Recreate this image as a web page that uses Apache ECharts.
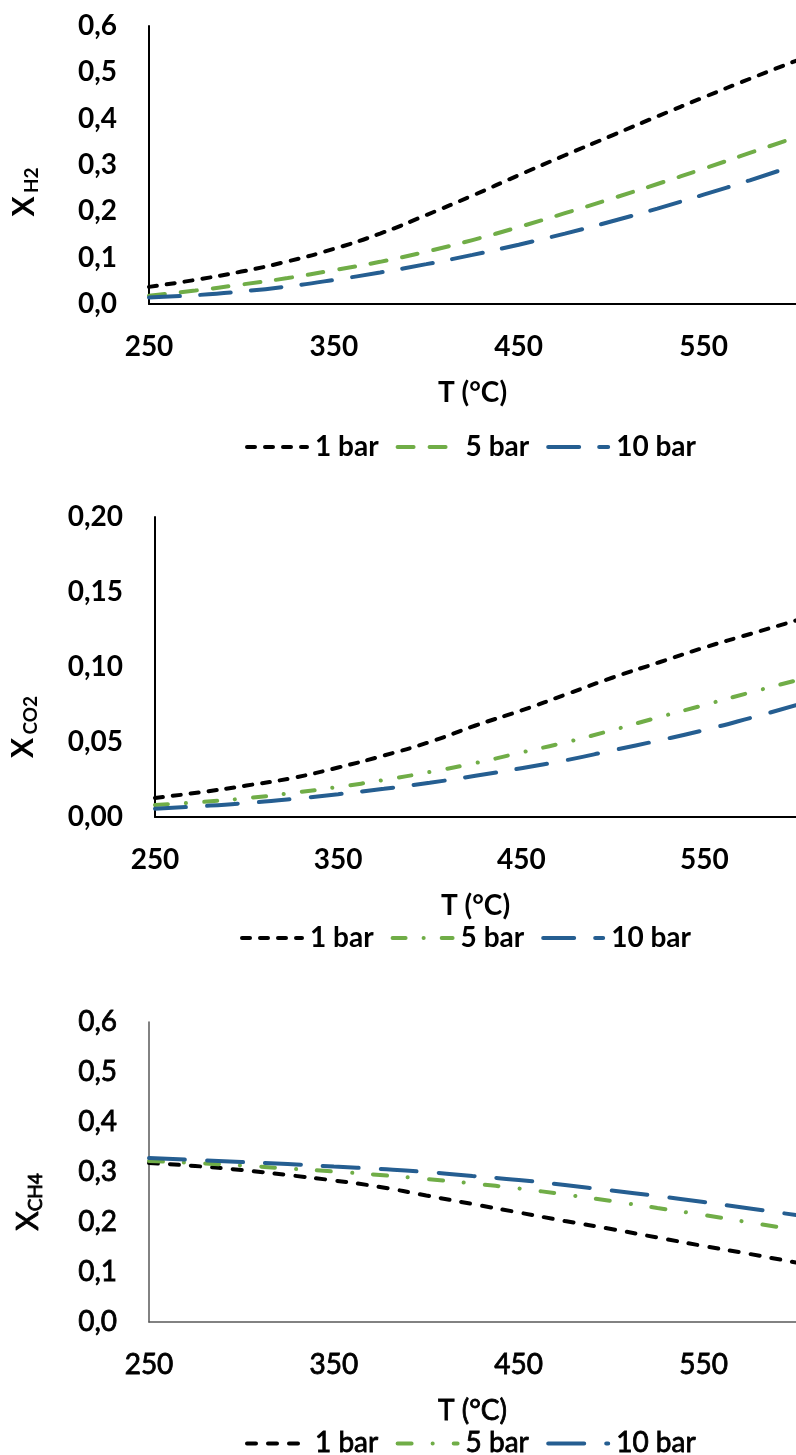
<!DOCTYPE html>
<html>
<head>
<meta charset="utf-8">
<script src="https://cdn.jsdelivr.net/npm/echarts@6/dist/echarts.min.js"></script>
<style>
  html, body { margin: 0; padding: 0; background: #fff; }
  .chart { width: 796px; }
</style>
</head>
<body>
<div id="c1" class="chart" style="height:480px"></div>
<div id="c2" class="chart" style="height:490px"></div>
<div id="c3" class="chart" style="height:485px"></div>
<script>
// temperatures (°C)
const temps = [250, 275, 300, 325, 350, 375, 400, 425, 450, 475, 500, 525, 550, 575, 600];
const seriesNames = ['1 bar', '5 bar', '10 bar'];

// X H2
const h2_1bar = [0.037, 0.052, 0.070, 0.092, 0.119, 0.152, 0.192, 0.234, 0.278, 0.321, 0.363, 0.405, 0.446, 0.486, 0.525];
const h2_5bar = [0.018, 0.029, 0.042, 0.056, 0.073, 0.091, 0.113, 0.138, 0.166, 0.196, 0.227, 0.259, 0.292, 0.326, 0.360];
const h2_10bar = [0.014, 0.019, 0.027, 0.038, 0.052, 0.068, 0.086, 0.106, 0.128, 0.152, 0.178, 0.206, 0.236, 0.267, 0.300];

// X CO2
const co2_1bar = [0.0127, 0.0165, 0.021, 0.026, 0.033, 0.041, 0.050, 0.061, 0.071, 0.082, 0.093, 0.103, 0.113, 0.122, 0.131];
const co2_5bar = [0.008, 0.010, 0.0125, 0.016, 0.020, 0.0247, 0.030, 0.036, 0.043, 0.050, 0.058, 0.0665, 0.0747, 0.083, 0.091];
const co2_10bar = [0.0055, 0.0072, 0.0093, 0.0120, 0.0152, 0.0188, 0.0228, 0.0275, 0.0325, 0.038, 0.0445, 0.051, 0.058, 0.066, 0.0745];

// X CH4
const ch4_1bar = [0.318, 0.312, 0.304, 0.294, 0.283, 0.270, 0.253, 0.236, 0.219, 0.202, 0.186, 0.169, 0.152, 0.136, 0.119];
const ch4_5bar = [0.322, 0.318, 0.313, 0.307, 0.301, 0.294, 0.286, 0.277, 0.267, 0.255, 0.242, 0.228, 0.214, 0.199, 0.184];
const ch4_10bar = [0.328, 0.324, 0.320, 0.316, 0.311, 0.306, 0.300, 0.292, 0.284, 0.274, 0.263, 0.252, 0.240, 0.227, 0.214];

const FONT = 'Lato, "Open Sans", sans-serif';
const colors = ['#000000', '#70AD47', '#255E91'];

function pairs(ys) {
  return temps.map((t, i) => [t, ys[i]]);
}

function makeOption(cfg) {
  // shared text look; chart 3 uses regular weight thickened a little
  const txt = {
    fontFamily: FONT, fontWeight: cfg.weight, color: '#000',
    textBorderColor: cfg.stroke ? '#000' : 'transparent', textBorderWidth: cfg.stroke || 0
  };
  return {
    animation: false,
    grid: { left: cfg.left, top: cfg.top, width: cfg.width, height: cfg.height },
    legend: {
      left: cfg.legendLeft, top: cfg.legendTop,
      itemWidth: 60, itemHeight: 10, itemGap: 17, padding: 0,
      data: seriesNames,
      itemStyle: { opacity: 0 },
      lineStyle: { width: 4, cap: 'round' },
      textStyle: Object.assign({ fontSize: 28, padding: [0, 0, 0, 3] }, txt)
    },
    xAxis: {
      type: 'value', min: 250, max: 600, interval: 100,
      name: 'T (°C)', nameLocation: 'middle', nameGap: 75,
      nameTextStyle: Object.assign({ fontSize: 28 }, txt),
      axisLine: { lineStyle: { color: cfg.axisColor, width: cfg.axisWidth } },
      axisTick: { show: false },
      splitLine: { show: false },
      axisLabel: Object.assign({ margin: 29, showMaxLabel: false, fontSize: 28 }, txt)
    },
    yAxis: {
      type: 'value', min: 0, max: cfg.yMax, interval: cfg.yStep,
      name: cfg.yName, nameLocation: 'middle', nameRotate: 90, nameGap: cfg.nameGap,
      nameTextStyle: {
        padding: [0, cfg.namePad, 0, 0],
        rich: {
          x: Object.assign({ fontSize: 30, lineHeight: 34 }, txt),
          s: Object.assign({ fontSize: 19, lineHeight: 14, verticalAlign: 'bottom' }, txt)
        }
      },
      axisLine: { show: true, lineStyle: { color: cfg.axisColor, width: cfg.axisWidth } },
      axisTick: { show: false },
      splitLine: { show: false },
      axisLabel: Object.assign({
        margin: 32, fontSize: 28,
        formatter: v => v.toFixed(cfg.digits).replace('.', ',')
      }, txt)
    },
    series: cfg.data.map((d, i) => ({
      name: seriesNames[i],
      type: 'line',
      data: pairs(d),
      smooth: true,
      symbol: 'none',
      lineStyle: { color: colors[i], width: 4, type: cfg.dashes[i], cap: 'round' },
      itemStyle: { color: colors[i] }
    }))
  };
}

const chart1 = echarts.init(document.getElementById('c1'));
chart1.setOption(makeOption({
  left: 149, top: 26, width: 658, height: 278,
  legendLeft: 245, legendTop: 433,
  yMax: 0.6, yStep: 0.1, digits: 1,
  yName: '{x|X} {s|H2}', nameGap: 108, namePad: 54,
  weight: 'bold', axisColor: '#000', axisWidth: 2,
  data: [h2_1bar, h2_5bar, h2_10bar],
  dashes: [[8, 10], [16, 16], [31, 20]]
}));

const chart2 = echarts.init(document.getElementById('c2'));
chart2.setOption(makeOption({
  left: 155, top: 37, width: 651, height: 300,
  legendLeft: 240, legendTop: 444,
  yMax: 0.2, yStep: 0.05, digits: 2,
  yName: '{x|X} {s|CO2}', nameGap: 115, namePad: 120,
  weight: 'bold', axisColor: '#000', axisWidth: 2,
  data: [co2_1bar, co2_5bar, co2_10bar],
  dashes: [[8, 10], [13, 18, 0.1, 18], [31, 21]]
}));

const chart3 = echarts.init(document.getElementById('c3'));
chart3.setOption(makeOption({
  left: 149, top: 52, width: 658, height: 300,
  legendLeft: 245, legendTop: 459,
  yMax: 0.6, yStep: 0.1, digits: 1,
  yName: '{x|X}{s|CH4}', nameGap: 104, namePad: 60,
  weight: 'normal', stroke: 0.8, axisColor: '#595959', axisWidth: 1.5,
  data: [ch4_1bar, ch4_5bar, ch4_10bar],
  dashes: [[9, 12], [14, 21, 0.1, 21], [36, 22]]
}));
</script>
</body>
</html>
